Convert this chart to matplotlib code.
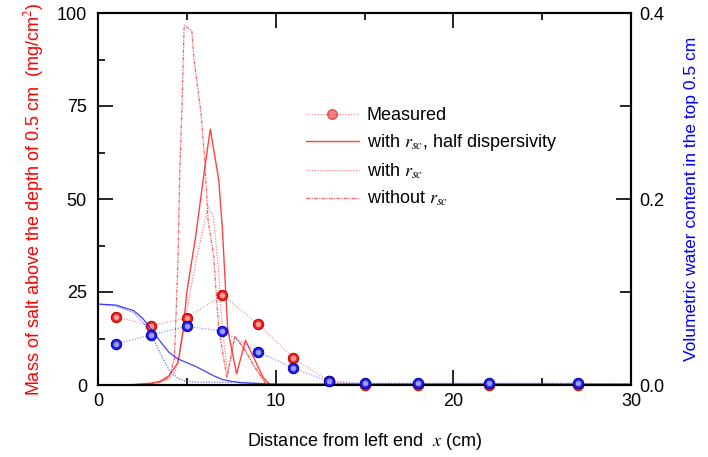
import matplotlib
matplotlib.use("Agg")
import matplotlib.pyplot as plt
from matplotlib.ticker import MultipleLocator, FormatStrFormatter
from matplotlib.lines import Line2D

plt.rcParams['font.family'] = ['Liberation Sans', 'DejaVu Sans']
plt.rcParams['mathtext.fontset'] = 'stix'

# Measured data
meas_x = [1, 3, 5, 7, 9, 11, 13, 15, 18, 22, 27]
meas_salt = [18.4, 15.9, 18.1, 24.2, 16.4, 7.2, 1.0, 0.0, 0.0, 0.0, 0.0]
meas_water = [0.044, 0.054, 0.063, 0.058, 0.036, 0.018, 0.004, 0.002, 0.002, 0.002, 0.002]

# Model: with r_sc, half dispersivity (salt)
half_x = [0, 1, 2, 3, 3.5, 4, 4.5, 4.8, 5.0, 5.5, 6.0, 6.32, 6.8, 7.0, 7.3, 7.8, 8.3, 8.8, 9.3, 9.7, 10, 30]
half_y = [0, 0, 0.1, 0.5, 1, 2.5, 6, 15, 25, 40, 58, 68.8, 55, 42, 15, 3, 12, 7, 2, 0, 0, 0]

# Model: with r_sc (salt)
with_x = [0, 1, 2, 3, 3.5, 4, 4.3, 4.6, 5.0, 5.5, 6.0, 6.2, 6.5, 6.8, 7.0, 7.3, 7.7, 8.2, 8.8, 9.5, 10, 30]
with_y = [0, 0, 0.1, 0.4, 0.8, 1.5, 3, 8, 20, 33, 44, 48, 45, 30, 15, 3, 13, 10, 5, 0, 0, 0]

# Model: without r_sc (salt)
wo_x = [0, 1, 2, 3, 3.5, 4, 4.3, 4.5, 4.6, 4.7, 4.85, 5.28, 5.4, 5.6, 5.8, 6.0, 6.2, 6.5, 6.8, 7.25, 7.7, 8.2, 8.8, 9.5, 10, 30]
wo_y = [0, 0, 0.1, 0.3, 0.8, 2, 7, 33, 57, 71, 96.7, 95.2, 87.6, 80.4, 73, 61, 44, 35, 15, 2, 13, 10, 5, 0, 0, 0]

# Water content models
wsol_x = [0, 1, 2, 2.5, 3, 3.5, 4, 4.5, 5, 5.5, 6, 6.5, 7, 7.5, 8, 9, 10, 30]
wsol_y = [0.087, 0.086, 0.080, 0.072, 0.060, 0.047, 0.035, 0.028, 0.024, 0.020, 0.015, 0.010, 0.006, 0.004, 0.0025, 0.0015, 0.001, 0.001]
wdot_x = [0, 1, 2, 2.5, 3, 3.5, 4, 4.5, 5, 6, 8, 9, 10, 30]
wdot_y = [0.087, 0.085, 0.078, 0.068, 0.055, 0.034, 0.016, 0.007, 0.0035, 0.003, 0.003, 0.002, 0.001, 0.001]

RED = '#ff2020'
BLUE = '#2020ff'

fig = plt.figure(figsize=(7.08, 4.57), dpi=100)
ax = fig.add_axes([98/708, 1-385/457, (631-98)/708, (385-13)/457])
ax2 = ax.twinx()

# salt lines
ax.plot(wo_x, wo_y, color=RED, lw=0.9, dashes=(3, 1, 1, 1), alpha=0.7)
ax.plot(with_x, with_y, color=RED, lw=0.9, dashes=(1, 1.2), alpha=0.55)
ax.plot(half_x, half_y, color=RED, lw=1.0, alpha=0.85)
ax.plot(meas_x, meas_salt, color=RED, lw=0.8, dashes=(1, 1.5), alpha=0.55)

# water lines
ax2.plot(wsol_x, wsol_y, color=BLUE, lw=0.9, alpha=0.85)
ax2.plot(wdot_x, wdot_y, color=BLUE, lw=0.9, dashes=(1, 1.2), alpha=0.65)
ax2.plot(meas_x, meas_water, color=BLUE, lw=0.8, dashes=(1, 1.5), alpha=0.55)

# markers (sphere-like)
ax.plot(meas_x, meas_salt, 'o', ms=7.5, mfc='#ee2020', mec='#c00000', mew=0.7, zorder=5, clip_on=False)
ax.plot(meas_x, meas_salt, 'o', ms=4, mfc='#ff9a9a', mec='none', zorder=6, clip_on=False)
ax2.plot(meas_x, meas_water, 'o', ms=7.5, mfc='#2020ee', mec='#0000a0', mew=0.7, zorder=5, clip_on=False)
ax2.plot(meas_x, meas_water, 'o', ms=4, mfc='#9a9aff', mec='none', zorder=6, clip_on=False)

ax.set_xlim(0, 30)
ax.set_ylim(0, 100)
ax2.set_ylim(0, 0.4)

ax.xaxis.set_major_locator(MultipleLocator(10))
ax.xaxis.set_minor_locator(MultipleLocator(5))
ax.yaxis.set_major_locator(MultipleLocator(25))
ax.yaxis.set_minor_locator(MultipleLocator(12.5))
ax2.yaxis.set_major_locator(MultipleLocator(0.2))
ax2.yaxis.set_minor_locator(MultipleLocator(0.1))
ax2.yaxis.set_major_formatter(FormatStrFormatter('%.1f'))

ax.tick_params(which='major', direction='in', length=11, width=1.2, top=True, labelsize=13, pad=6)
ax.tick_params(which='minor', direction='in', length=5, width=1.2, top=True)
ax.tick_params(axis='y', which='both', right=False, pad=8)
ax2.tick_params(which='major', direction='in', length=11, width=1.2, labelsize=13, pad=6)
ax2.tick_params(which='minor', direction='in', length=8, width=1.2)

for a in (ax, ax2):
    for s in a.spines.values():
        s.set_linewidth(1.5)

ax.set_ylabel('Mass of salt above the depth of 0.5 cm  (mg/cm$^2$)', color='red', fontsize=13, labelpad=8)
ax2.set_ylabel('Volumetric water content in the top 0.5 cm', color='blue', fontsize=12.5, labelpad=14)
ax.set_xlabel('Distance from left end  $x$ (cm)', fontsize=13, labelpad=15)

handles = [
    Line2D([], [], color=RED, lw=0.8, dashes=(1, 1.5), alpha=0.55, marker='o', ms=7, mfc='#ee2020', mec='#c00000'),
    Line2D([], [], color=RED, lw=1.0, alpha=0.85),
    Line2D([], [], color=RED, lw=0.9, dashes=(1, 1.2), alpha=0.55),
    Line2D([], [], color=RED, lw=0.9, dashes=(3, 1, 1, 1), alpha=0.7),
]
labels = ['Measured', 'with $r_{sc}$, half dispersivity', 'with $r_{sc}$', 'without $r_{sc}$']
leg = ax.legend(handles, labels, loc='upper left', bbox_to_anchor=((299-98)/533, 1-(100-13)/372),
                frameon=False, fontsize=13, handlelength=2.9, labelspacing=0.45, handletextpad=0.45,
                borderaxespad=0)

fig.savefig('out.png', dpi=100)
